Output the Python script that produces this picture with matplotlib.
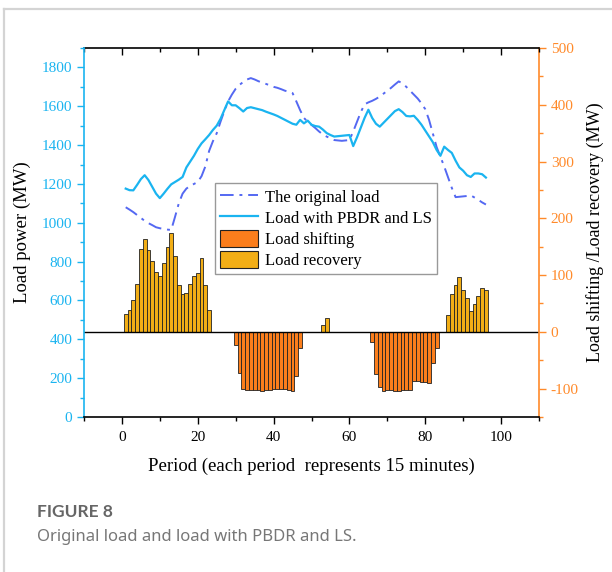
import numpy as np
import matplotlib.pyplot as plt
from matplotlib.lines import Line2D
from matplotlib.patches import Patch
from matplotlib.ticker import MultipleLocator

# Periodos (cada periodo = 15 minutos)
periodos = np.arange(1, 97)

carga_original = [
    1080, 1068, 1055, 1040, 1025, 1010, 998, 988, 977, 972,
    968, 965, 963, 1030, 1100, 1150, 1176, 1190, 1200, 1210,
    1240, 1290, 1370, 1420, 1461, 1520, 1575, 1625, 1660, 1690,
    1710, 1725, 1738, 1745, 1738, 1729, 1722, 1715, 1708, 1700,
    1695, 1688, 1680, 1675, 1668, 1625, 1580, 1540, 1520, 1504,
    1488, 1470, 1455, 1444, 1435, 1426, 1424, 1422, 1424, 1426,
    1470, 1520, 1570, 1610, 1620, 1628, 1638, 1650, 1665, 1680,
    1695, 1712, 1728, 1718, 1700, 1680, 1660, 1640, 1615, 1585,
    1530, 1460, 1390, 1340, 1290, 1235, 1180, 1132, 1134, 1136,
    1138, 1141, 1130, 1118, 1105, 1094,
]

carga_pbdr = [
    1176, 1168, 1167, 1195, 1225, 1245, 1220, 1185, 1150, 1127,
    1150, 1175, 1198, 1210, 1222, 1236, 1285, 1315, 1345, 1380,
    1409, 1430, 1452, 1478, 1500, 1535, 1580, 1625, 1605, 1605,
    1590, 1573, 1591, 1595, 1590, 1585, 1580, 1572, 1565, 1558,
    1550, 1540, 1530, 1520, 1510, 1505, 1530, 1512, 1526, 1505,
    1498, 1495, 1480, 1462, 1452, 1444, 1446, 1448, 1450, 1452,
    1395, 1440, 1490, 1540, 1582, 1540, 1510, 1495, 1515, 1535,
    1555, 1575, 1585, 1570, 1550, 1548, 1551, 1530, 1505, 1475,
    1445, 1415, 1375, 1345, 1392, 1375, 1360, 1320, 1285, 1268,
    1245, 1236, 1254, 1254, 1250, 1233,
]

deslocamento = (
    [0] * 29
    + [-23, -73, -101, -103, -103, -103, -102, -104, -103, -102,
       -101, -101, -101, -101, -102, -104, -77, -28]
    + [0] * 18
    + [-18, -74, -97, -104, -102, -102, -104, -104, -102, -102,
       -102, -86, -87, -88, -88, -90, -54, -28]
    + [0] * 13
)

recuperacao = (
    [31, 39, 56, 85, 146, 164, 145, 125, 106, 99, 122, 149, 174,
     133, 82, 66, 69, 84, 98, 104, 130, 83, 38]
    + [0] * 28
    + [0, 12, 24]
    + [0] * 31
    + [30, 67, 83, 97, 74, 59, 37, 49, 64, 77, 73]
)

azul = '#1AB4F0'
azul_traco = '#5468F2'
laranja = '#FF8A2A'
cor_desl = '#FB7E1C'
cor_rec = '#F2AE16'

plt.rcParams['font.family'] = ['Liberation Serif', 'DejaVu Serif']
plt.rcParams['axes.unicode_minus'] = False

fig = plt.figure(figsize=(6.12, 5.72), dpi=100)
ax1 = fig.add_axes([84 / 612, 1 - 417 / 572, (539 - 84) / 612, (417 - 48) / 572])
ax2 = ax1.twinx()

# barras no eixo direito
ax2.bar(periodos, deslocamento, width=1.0, color=cor_desl, edgecolor='#222222', linewidth=0.6)
ax2.bar(periodos, recuperacao, width=1.0, color=cor_rec, edgecolor='#222222', linewidth=0.6)
ax2.axhline(0, color='black', linewidth=1.0)

# linhas no eixo esquerdo
ax1.plot(periodos, carga_original, color=azul_traco, linestyle=(0, (7, 3, 1.5, 3)), linewidth=1.4)
ax1.plot(periodos, carga_pbdr, color=azul, linewidth=1.6)
ax1.set_zorder(ax2.get_zorder() + 1)
ax1.patch.set_visible(False)

ax1.set_xlim(-10, 110)
ax1.set_ylim(0, 1900)
ax2.set_ylim(-150, 500)

ax1.xaxis.set_major_locator(MultipleLocator(20))
ax1.xaxis.set_minor_locator(MultipleLocator(10))
ax1.yaxis.set_major_locator(MultipleLocator(200))
ax1.yaxis.set_minor_locator(MultipleLocator(100))
ax2.yaxis.set_major_locator(MultipleLocator(100))
ax2.yaxis.set_minor_locator(MultipleLocator(50))

ax1.tick_params(axis='x', which='major', direction='out', length=5, width=1, labelsize=11, pad=5)
ax1.tick_params(axis='x', which='minor', direction='out', length=3, width=1)
ax1.tick_params(axis='y', which='major', direction='out', length=5, width=1, colors=azul, labelsize=11)
ax1.tick_params(axis='y', which='minor', direction='out', length=3, width=1, colors=azul)
ax2.tick_params(axis='y', which='major', direction='out', length=5, width=1, colors=laranja, labelsize=11)
ax2.tick_params(axis='y', which='minor', direction='out', length=3, width=1, colors=laranja)

topo = ax1.secondary_xaxis('top')
topo.xaxis.set_major_locator(MultipleLocator(20))
topo.xaxis.set_minor_locator(MultipleLocator(10))
topo.tick_params(axis='x', which='major', direction='in', length=5, width=1, labeltop=False)
topo.tick_params(axis='x', which='minor', direction='in', length=3, width=1)
topo.spines['top'].set_linewidth(1.2)

ax1.spines['left'].set_color(azul)
ax1.spines['left'].set_linewidth(1.2)
ax1.spines['right'].set_visible(False)
ax1.spines['bottom'].set_linewidth(1.2)
ax2.spines['right'].set_color(laranja)
ax2.spines['right'].set_linewidth(1.2)
ax2.spines['left'].set_visible(False)
ax2.spines['top'].set_visible(False)
ax2.spines['bottom'].set_visible(False)
ax1.spines['top'].set_visible(False)

ax1.set_xlabel('Period (each period  represents 15 minutes)', fontsize=13.5, labelpad=10)
ax1.set_ylabel('Load power (MW)', fontsize=13.5, labelpad=8)
ax2.set_ylabel('Load shifting /Load recovery (MW)', fontsize=13, labelpad=5)

alcas = [
    Line2D([], [], color=azul_traco, linestyle=(0, (7, 3, 1.5, 3)), linewidth=1.4),
    Line2D([], [], color=azul, linewidth=1.6),
    Patch(facecolor=cor_desl, edgecolor='#222222', linewidth=0.8),
    Patch(facecolor=cor_rec, edgecolor='#222222', linewidth=0.8),
]
nomes = ['The original load', 'Load with PBDR and LS', 'Load shifting', 'Load recovery']
leg = ax1.legend(alcas, nomes, loc='upper left', bbox_to_anchor=((215 - 84) / 455, (417 - 183) / 369),
                 fontsize=12, frameon=True, fancybox=False, edgecolor='#808080',
                 handlelength=2.3, handleheight=1.25, handletextpad=0.4, labelspacing=0.15,
                 borderpad=0.3, borderaxespad=0)
leg.get_frame().set_linewidth(1.0)

# moldura e legenda da figura
fig.add_artist(Line2D([4 / 612, 1], [1 - 9 / 572, 1 - 9 / 572], color='#d4d4d4', linewidth=1.6))
fig.add_artist(Line2D([4 / 612, 4 / 612], [0, 1 - 9 / 572], color='#d4d4d4', linewidth=1.6))
fig.text(37 / 612, 1 - 512 / 572, 'FIGURE 8', fontsize=12.5, fontweight='bold', color='#666666',
         family=['Lato', 'DejaVu Sans'], va='center')
fig.text(37 / 612, 1 - 537 / 572, 'Original load and load with PBDR and LS.', fontsize=12,
         color='#777777', family=['Noto Sans', 'DejaVu Sans'], va='center')

fig.savefig('out.png', dpi=100)
